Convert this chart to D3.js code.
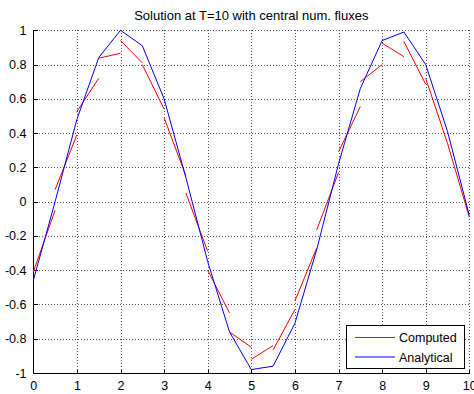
<!DOCTYPE html>
<html>
<head>
<meta charset="utf-8">
<script src="https://cdn.jsdelivr.net/npm/d3@7"></script>
<style>
  html, body { margin: 0; padding: 0; background: #fff; }
  svg { display: block; }
  text { font-family: "Liberation Sans", Arial, Helvetica, sans-serif; fill: #000; }
</style>
</head>
<body>
<svg id="chart" width="474" height="394"></svg>
<script>
// ---- data ----
const chartTitle = "Solution at T=10 with central num. fluxes";
const xTicks = [0, 1, 2, 3, 4, 5, 6, 7, 8, 9, 10];
const yTicks = [-1, -0.8, -0.6, -0.4, -0.2, 0, 0.2, 0.4, 0.6, 0.8, 1];
const yTickLabels = ["-1", "-0.8", "-0.6", "-0.4", "-0.2", "0", "0.2", "0.4", "0.6", "0.8", "1"];

// analytical solution, sampled at the element nodes
const analyticalX = [0, 0.5, 1, 1.5, 2, 2.5, 3, 3.5, 4, 4.5, 5, 5.5, 6, 6.5, 7, 7.5, 8, 8.5, 9, 9.5, 10];
const analyticalY = [-0.46, 0.0, 0.48, 0.84, 1.0, 0.91, 0.60, 0.14, -0.35, -0.76, -0.98, -0.96, -0.71, -0.28, 0.22, 0.66, 0.94, 0.99, 0.80, 0.41, -0.08];

// computed (discontinuous, linear per element) solution
const elementLeft  = [0, 0.5, 1, 1.5, 2, 2.5, 3, 3.5, 4, 4.5, 5, 5.5, 6, 6.5, 7, 7.5, 8, 8.5, 9, 9.5];
const elementRight = [0.5, 1, 1.5, 2, 2.5, 3, 3.5, 4, 4.5, 5, 5.5, 6, 6.5, 7, 7.5, 8, 8.5, 9, 9.5, 10];
const computedLeftY  = [-0.41, 0.07, 0.525, 0.837, 0.94, 0.80, 0.49, 0.05, -0.40, -0.76, -0.92, -0.865, -0.58, -0.165, 0.29, 0.70, 0.925, 0.935, 0.72, 0.34];
const computedRightY = [-0.05, 0.39, 0.72, 0.866, 0.81, 0.54, 0.15, -0.29, -0.65, -0.85, -0.84, -0.63, -0.27, 0.17, 0.555, 0.80, 0.846, 0.685, 0.34, -0.09];

const legendLabels = ["Computed", "Analytical"];
const seriesColors = ["#ff0000", "#0000ff"];

// ---- drawing ----
const svg = d3.select("#chart");
const x = d3.scaleLinear().domain([0, 10]).range([33.3, 469.3]);
const y = d3.scaleLinear().domain([-1, 1]).range([373, 30.3]);

// grid
const grid = svg.append("g")
  .attr("stroke", "#555").attr("stroke-width", 1).attr("stroke-dasharray", "1,2")
  .attr("shape-rendering", "crispEdges");
grid.selectAll("line.gx").data(xTicks.filter(d => d !== 0)).join("line")
  .attr("x1", d => Math.round(x(d)) + 0.5).attr("x2", d => Math.round(x(d)) + 0.5)
  .attr("y1", y(1)).attr("y2", y(-1));
grid.selectAll("line.gy").data(yTicks.filter(d => d !== -1)).join("line")
  .attr("y1", d => Math.round(y(d)) + 0.5).attr("y2", d => Math.round(y(d)) + 0.5)
  .attr("x1", x(0)).attr("x2", x(10));

// axes
const xAxis = d3.axisBottom(x).tickValues(xTicks).tickFormat(d3.format("d")).tickSize(-4).tickPadding(8);
const yAxis = d3.axisLeft(y).tickValues(yTicks).tickFormat((d, i) => yTickLabels[i]).tickSize(-4).tickPadding(7);

const gx = svg.append("g").attr("transform", `translate(0,${Math.round(y(-1)) + 0.5})`).call(xAxis);
const gy = svg.append("g").attr("transform", `translate(${Math.round(x(0)) + 0.5},0)`).call(yAxis);
[gx, gy].forEach(g => {
  g.select(".domain").attr("stroke", "#000").attr("shape-rendering", "crispEdges");
  g.selectAll(".tick line").attr("stroke", "#000").attr("shape-rendering", "crispEdges");
  g.selectAll("text").attr("font-size", 12.5).attr("font-family", "Liberation Sans, Arial, sans-serif").attr("fill", "#000");
});
gx.select(".domain").attr("d", `M${x(0)},0H${x(10)}`);
gy.select(".domain").attr("d", `M0,${y(1)}V${y(-1)}`);

// computed series (one segment per element)
const segs = elementLeft.map((xl, i) => ({ x0: xl, x1: elementRight[i], y0: computedLeftY[i], y1: computedRightY[i] }));
svg.append("g").selectAll("line").data(segs).join("line")
  .attr("x1", d => x(d.x0)).attr("y1", d => y(d.y0))
  .attr("x2", d => x(d.x1)).attr("y2", d => y(d.y1))
  .attr("stroke", seriesColors[0]).attr("stroke-width", 1);

// analytical series
const line = d3.line().x((d, i) => x(analyticalX[i])).y(d => y(d));
svg.append("path").datum(analyticalY)
  .attr("d", line).attr("fill", "none")
  .attr("stroke", seriesColors[1]).attr("stroke-width", 1);

// title
svg.append("text").attr("x", (x(0) + x(10)) / 2).attr("y", 19.5)
  .attr("text-anchor", "middle").attr("font-size", 13).text(chartTitle);

// legend
const lg = svg.append("g");
lg.append("rect").attr("x", 346.5).attr("y", 325.5).attr("width", 118).attr("height", 43)
  .attr("fill", "#fff").attr("stroke", "#000").attr("stroke-width", 1);
legendLabels.forEach((lab, i) => {
  const yy = 337.5 + i * 19.5;
  lg.append("line").attr("x1", 355).attr("x2", 395).attr("y1", yy).attr("y2", yy)
    .attr("stroke", seriesColors[i]).attr("stroke-width", 1);
  lg.append("text").attr("x", 399).attr("y", yy + 4.5).attr("font-size", 12.5).text(lab);
});
</script>
</body>
</html>
